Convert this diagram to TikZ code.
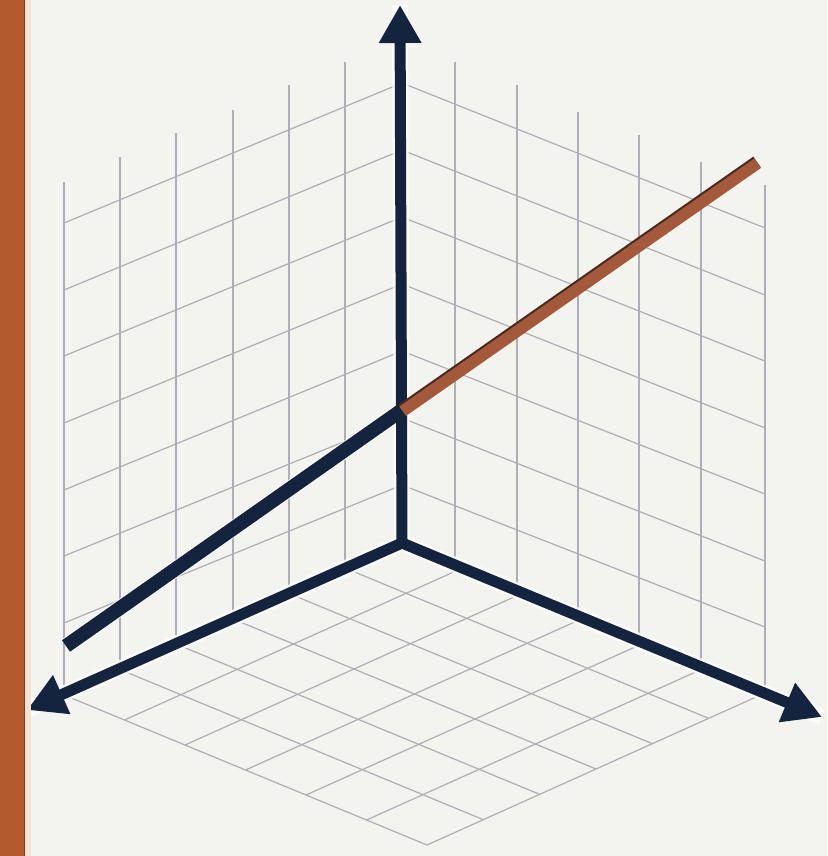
\documentclass[tikz,border=0pt]{standalone}
\usetikzlibrary{arrows.meta,calc}
\definecolor{bg}{HTML}{F3F3EF}
\definecolor{navy}{HTML}{14243E}
\definecolor{gridc}{HTML}{ADAFB4}
\definecolor{rust}{HTML}{B35A2E}
\definecolor{peach}{HTML}{F6E3D4}
\definecolor{rod}{HTML}{A45A3A}
\definecolor{roddark}{HTML}{4A2A1E}
\tikzset{
  gridline/.style={draw=gridc, line width=1.2pt},
  halo/.style={draw=white, line width=16pt, opacity=0.8},
  axisline/.style={draw=navy, line width=11pt, line join=miter},
  axisarrow/.style={axisline, -{Triangle[length=38pt,width=40pt]}},
  vecline/.style={draw=navy, line width=14pt},
  rodline/.style={draw=rod, line width=11.5pt},
}
\begin{document}
\begin{tikzpicture}[x=1pt,y=-1pt]
\useasboundingbox (0,0) rectangle (827,856);
\fill[bg] (0,0) rectangle (827,856);
% key points
\coordinate (O) at (402,543);
\coordinate (L) at (64,695);
\coordinate (R) at (765,693);
\coordinate (B) at (427,845);
\coordinate (Ztip) at (400,5);
\coordinate (Xtip) at (27,710);
\coordinate (Ytip) at (822,717);
\coordinate (V0) at (66,646);
\coordinate (J) at (402,410);
\coordinate (Rend) at (757,162);
% left wall horizontals
\foreach \a/\b in {223/83,290/150,356/217,423/284,490/351,556/418,623/485}
  \draw[gridline] (64,\a) -- (402,\b);
% right wall horizontals
\foreach \a/\b in {83/228,150/295,217/361,284/428,351/494,418/561,485/627}
  \draw[gridline] (402,\a) -- (765,\b);
% left wall verticals
\foreach \x/\t/\u in {64/182/695,120/157/670,176/133/645,233/110/619,289/85/594,345/62/569}
  \draw[gridline] (\x,\t) -- (\x,\u);
% right wall verticals
\foreach \x/\t/\u in {455/62/565,517/85/590,578/112/615,639/135/641,701/162/666,765/185/693}
  \draw[gridline] (\x,\t) -- (\x,\u);
% floor grid
\foreach \i in {1,...,6}{
  \draw[gridline] ($(O)!\i/6!(L)$) -- ($(R)!\i/6!(B)$);
  \draw[gridline] ($(O)!\i/6!(R)$) -- ($(L)!\i/6!(B)$);
}
% halos
\draw[halo] (O) -- (Ztip);
\draw[halo] (O) -- (Xtip);
\draw[halo] (O) -- (Ytip);
\draw[halo] (V0) -- (J);
% axes
\draw[axisarrow] (O) -- (Ztip);
\draw[axisarrow] (O) -- (Xtip);
\draw[axisarrow] (O) -- (Ytip);
% vector
\draw[vecline] (V0) -- (J);
\draw[draw=roddark, line width=13pt] (J) -- (Rend);
\draw[rodline] ($(J)+(0.7,1.2)$) -- ($(Rend)+(0.7,1.2)$);
% left bar
\fill[rust] (0,0) rectangle (24,856);
\fill[peach] (24,0) rectangle (31,856);
\draw[draw=rust!70!black, line width=1pt] (24.5,0) -- (24.5,856);
\end{tikzpicture}
\end{document}
